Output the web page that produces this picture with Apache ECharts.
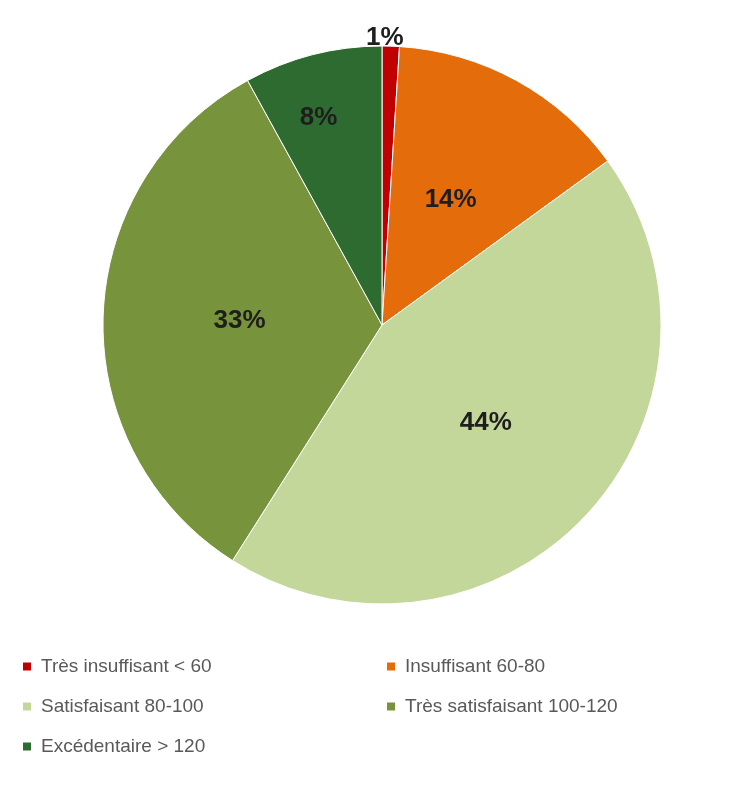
<!DOCTYPE html>
<html>
<head>
    <meta charset="UTF-8">
    <title>Répartition</title>
    <script src="https://cdn.jsdelivr.net/npm/echarts@6/dist/echarts.min.js"></script>
    <style>
        html, body { margin: 0; padding: 0; background: #fff; }
        #main { width: 750px; height: 798px; }
    </style>
</head>
<body>
<div id="main"></div>
<script type="text/javascript">
    // catégories et parts (%)
    var categories = ['Très insuffisant < 60', 'Insuffisant 60-80', 'Satisfaisant 80-100', 'Très satisfaisant 100-120', 'Excédentaire > 120'];
    var values = [1, 14, 44, 33, 8];
    var colors = ['#C00000', '#E46C0A', '#C4D79B', '#77933C', '#2E6B30'];

    var myChart = echarts.init(document.getElementById('main'));

    var data = [];
    for (var i = 0; i < categories.length; i++) {
        var item = { value: values[i], name: categories[i] };
        // la petite part a son étiquette au bord du disque
        if (values[i] < 3) {
            item.label = { position: 'outside', distanceToLabelLine: 0 };
            item.labelLine = { show: false, length: 0, length2: 0 };
        }
        data.push(item);
    }

    var legendText = { fontFamily: 'Liberation Sans, sans-serif', fontSize: 19, color: '#595959', padding: [0, 0, 0, 4] };

    var option = {
        backgroundColor: '#fff',
        color: colors,
        legend: [
            {
                orient: 'vertical', left: 16, top: 652, itemGap: 21,
                itemWidth: 10, itemHeight: 10, icon: 'rect',
                data: [categories[0], categories[2], categories[4]],
                textStyle: legendText
            },
            {
                orient: 'vertical', left: 380, top: 652, itemGap: 21,
                itemWidth: 10, itemHeight: 10, icon: 'rect',
                data: [categories[1], categories[3]],
                textStyle: legendText
            }
        ],
        series: [
            {
                name: 'Répartition',
                type: 'pie',
                radius: 279,
                center: [382, 325],
                startAngle: 90,
                clockwise: true,
                avoidLabelOverlap: false,
                data: data,
                itemStyle: { borderColor: '#fff', borderWidth: 1 },
                label: {
                    show: true,
                    position: 'inside',
                    formatter: '{d}%',
                    fontFamily: 'Liberation Sans, sans-serif',
                    fontWeight: 'bold',
                    fontSize: 26,
                    color: '#1e1e1e'
                },
                // décalages des étiquettes comme dans l'original
                labelLayout: function (params) {
                    if (params.dataIndex === 0) {
                        return { dx: -params.labelRect.width / 2 - 6, dy: -8 };
                    }
                    if (params.dataIndex === 4) {
                        return { dx: -28, dy: -69 };
                    }
                    return {};
                },
                emphasis: { disabled: true }
            }
        ]
    };
    myChart.setOption(option);
</script>
</body>
</html>
